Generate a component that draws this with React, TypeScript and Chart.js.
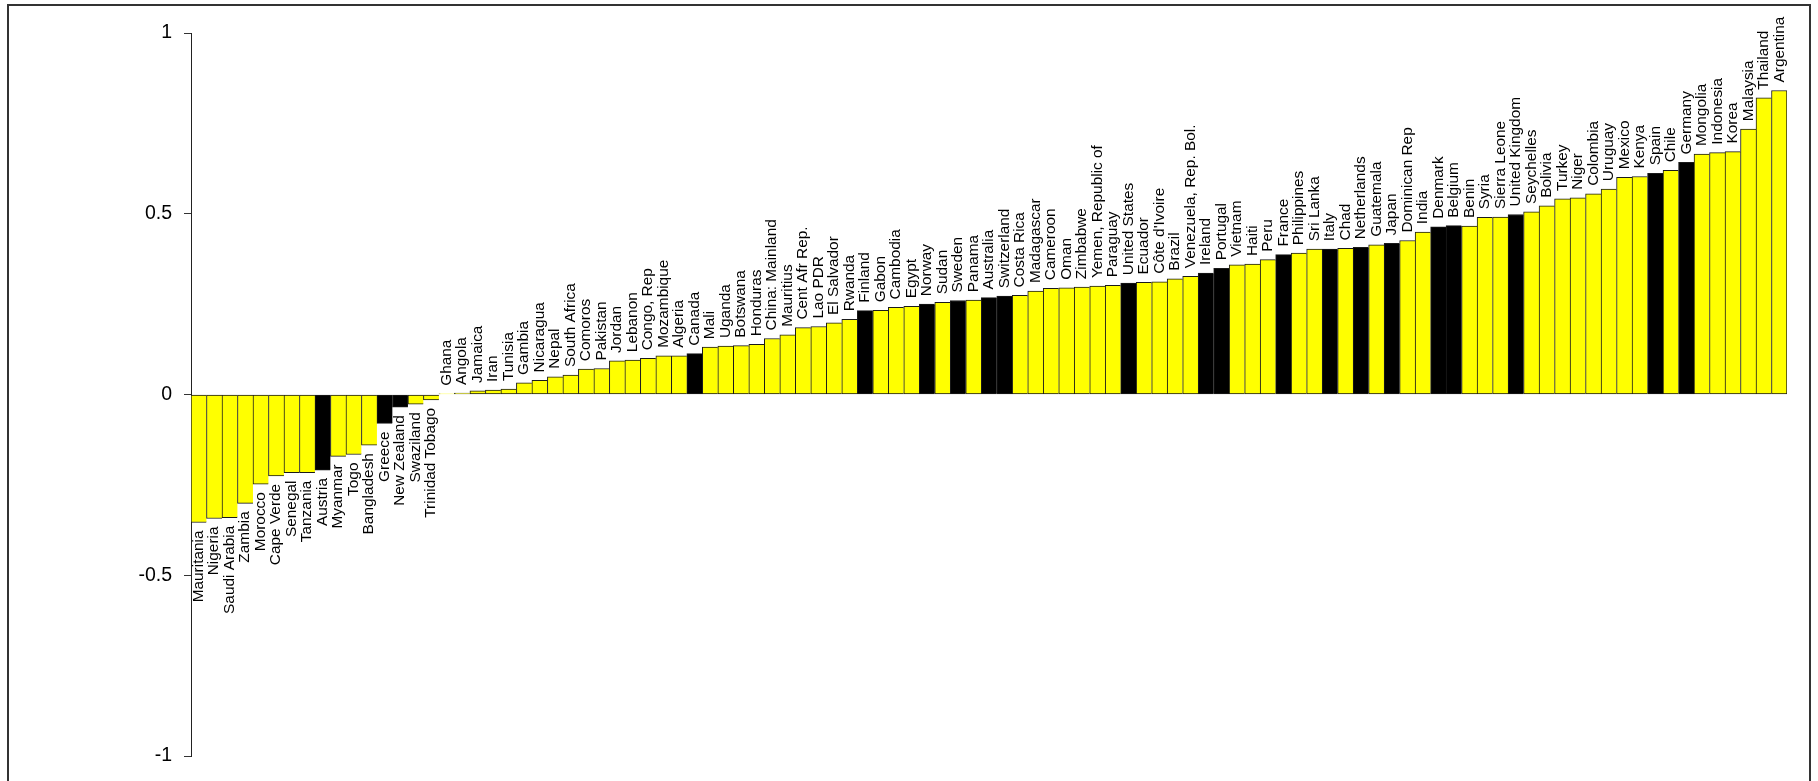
import React, { useEffect, useRef } from "react";
import { Chart, registerables } from "chart.js";

Chart.register(...registerables);

const countries: string[] = [
  "Mauritania", "Nigeria", "Saudi Arabia", "Zambia", "Morocco", "Cape Verde", "Senegal", "Tanzania",
  "Austria", "Myanmar", "Togo", "Bangladesh", "Greece", "New Zealand", "Swaziland", "Trinidad Tobago",
  "Ghana", "Angola", "Jamaica", "Iran", "Tunisia", "Gambia", "Nicaragua", "Nepal", "South Africa",
  "Comoros", "Pakistan", "Jordan", "Lebanon", "Congo, Rep", "Mozambique", "Algeria", "Canada", "Mali",
  "Uganda", "Botswana", "Honduras", "China: Mainland", "Mauritius", "Cent Afr Rep.", "Lao PDR",
  "El Salvador", "Rwanda", "Finland", "Gabon", "Cambodia", "Egypt", "Norway", "Sudan", "Sweden",
  "Panama", "Australia", "Switzerland", "Costa Rica", "Madagascar", "Cameroon", "Oman", "Zimbabwe",
  "Yemen, Republic of", "Paraguay", "United States", "Ecuador", "Côte d'Ivoire", "Brazil",
  "Venezuela, Rep. Bol.", "Ireland", "Portugal", "Vietnam", "Haiti", "Peru", "France", "Philippines",
  "Sri Lanka", "Italy", "Chad", "Netherlands", "Guatemala", "Japan", "Dominican Rep", "India",
  "Denmark", "Belgium", "Benin", "Syria", "Sierra Leone", "United Kingdom", "Seychelles", "Bolivia",
  "Turkey", "Niger", "Colombia", "Uruguay", "Mexico", "Kenya", "Spain", "Chile", "Germany",
  "Mongolia", "Indonesia", "Korea", "Malaysia", "Thailand", "Argentina",
];

const values: number[] = [
  -0.354, -0.343, -0.341, -0.301, -0.248, -0.225, -0.216, -0.216,
  -0.209, -0.171, -0.166, -0.140, -0.080, -0.035, -0.027, -0.015,
  0.002, 0.004, 0.010, 0.0125, 0.015, 0.032, 0.039, 0.049, 0.054,
  0.070, 0.072, 0.093, 0.095, 0.100, 0.107, 0.107, 0.113, 0.131,
  0.134, 0.135, 0.139, 0.155, 0.165, 0.185, 0.188,
  0.198, 0.208, 0.232, 0.233, 0.241, 0.244, 0.250, 0.255, 0.260,
  0.261, 0.268, 0.272, 0.274, 0.286, 0.294, 0.295, 0.297,
  0.300, 0.302, 0.308, 0.310, 0.312, 0.320,
  0.327, 0.336, 0.349, 0.359, 0.361, 0.373, 0.387, 0.391,
  0.402, 0.402, 0.404, 0.407, 0.414, 0.418, 0.426, 0.449,
  0.464, 0.467, 0.466, 0.490, 0.491, 0.498, 0.505, 0.522,
  0.541, 0.544, 0.555, 0.568, 0.601, 0.603, 0.612, 0.620, 0.642,
  0.665, 0.669, 0.672, 0.734, 0.821, 0.841,
];

// 1 = OECD member (black bar), 0 = other (yellow bar)
const oecd: number[] = [
  0, 0, 0, 0, 0, 0, 0, 0,
  1, 0, 0, 0, 1, 1, 0, 0,
  0, 0, 0, 0, 0, 0, 0, 0, 0,
  0, 0, 0, 0, 0, 0, 0, 1, 0,
  0, 0, 0, 0, 0, 0, 0,
  0, 0, 1, 0, 0, 0, 1, 0, 1,
  0, 1, 1, 0, 0, 0, 0, 0,
  0, 0, 1, 0, 0, 0,
  0, 1, 1, 0, 0, 0, 1, 0,
  0, 1, 0, 1, 0, 1, 0, 0,
  1, 1, 0, 0, 0, 1, 0, 0,
  0, 0, 0, 0, 0, 0, 1, 0, 1,
  0, 0, 0, 0, 0, 0,
];

const yTicks: number[] = [-1, -0.5, 0, 0.5, 1];
const yTickLabels: string[] = ["-1", "-0.5", "0", "0.5", "1"];

const FONT = "'Liberation Sans', Arial, Helvetica, sans-serif";

const framePlugin = {
  id: "frame",
  afterDraw(chart: any) {
    const ctx = chart.ctx;
    ctx.save();
    ctx.strokeStyle = "#333333";
    ctx.lineWidth = 2;
    ctx.strokeRect(8, 5, 1802, 900);
    ctx.restore();
  },
};

const labelPlugin = {
  id: "barLabels",
  afterDatasetsDraw(chart: any) {
    const ctx = chart.ctx;
    const meta = chart.getDatasetMeta(0);
    ctx.save();
    ctx.font = `15.4px ${FONT}`;
    ctx.fillStyle = "#000000";
    ctx.textBaseline = "middle";
    meta.data.forEach((bar: any, i: number) => {
      const v = values[i];
      ctx.save();
      if (v >= 0) {
        ctx.translate(bar.x, bar.y - 8);
        ctx.rotate(-Math.PI / 2);
        ctx.textAlign = "left";
      } else {
        ctx.translate(bar.x, bar.y + 8);
        ctx.rotate(-Math.PI / 2);
        ctx.textAlign = "right";
      }
      ctx.fillText(countries[i], 0, 0);
      ctx.restore();
    });
    ctx.restore();
  },
};

export default function App() {
  const ref = useRef<HTMLCanvasElement | null>(null);

  useEffect(() => {
    document.body.style.margin = "0";
    const canvas = ref.current;
    if (!canvas) return;
    const n = values.length;
    const chart = new Chart(canvas, {
      type: "bar",
      data: {
        labels: countries,
        datasets: [
          {
            data: values,
            backgroundColor: oecd.map((o) => (o ? "#000000" : "#FFFF00")),
            borderColor: "#1a1a1a",
            borderWidth: ((c: any) => ({
              top: 1,
              bottom: 1,
              left: 1,
              right: c.dataIndex === n - 1 ? 1 : 0,
            })) as any,
            borderSkipped: false,
            categoryPercentage: 1,
            barPercentage: 1,
          },
        ],
      },
      options: {
        responsive: false,
        animation: false,
        devicePixelRatio: 1,
        layout: { padding: { left: 91, right: 31, top: 33, bottom: 25 } },
        plugins: {
          legend: { display: false },
          tooltip: { enabled: false },
        },
        scales: {
          x: { display: false },
          y: {
            min: -1,
            max: 1,
            afterFit: (s: any) => {
              s.width = 100;
            },
            afterBuildTicks: (s: any) => {
              s.ticks = yTicks.map((v) => ({ value: v }));
            },
            grid: {
              drawOnChartArea: false,
              tickLength: 7,
              color: "#333333",
            },
            border: { display: true, color: "#222222", width: 1 },
            ticks: {
              padding: 12,
              color: "#000000",
              font: { family: FONT, size: 19.5 },
              callback: (v: any) => {
                const idx = yTicks.indexOf(Number(v));
                return idx >= 0 ? yTickLabels[idx] : String(v);
              },
            },
          },
        },
      },
      plugins: [labelPlugin, framePlugin],
    });
    return () => chart.destroy();
  }, []);

  return (
    <div style={{ position: "absolute", left: 0, top: 0, width: 1818, height: 781 }}>
      <canvas ref={ref} width={1818} height={781} style={{ display: "block", width: 1818, height: 781 }} />
    </div>
  );
}
